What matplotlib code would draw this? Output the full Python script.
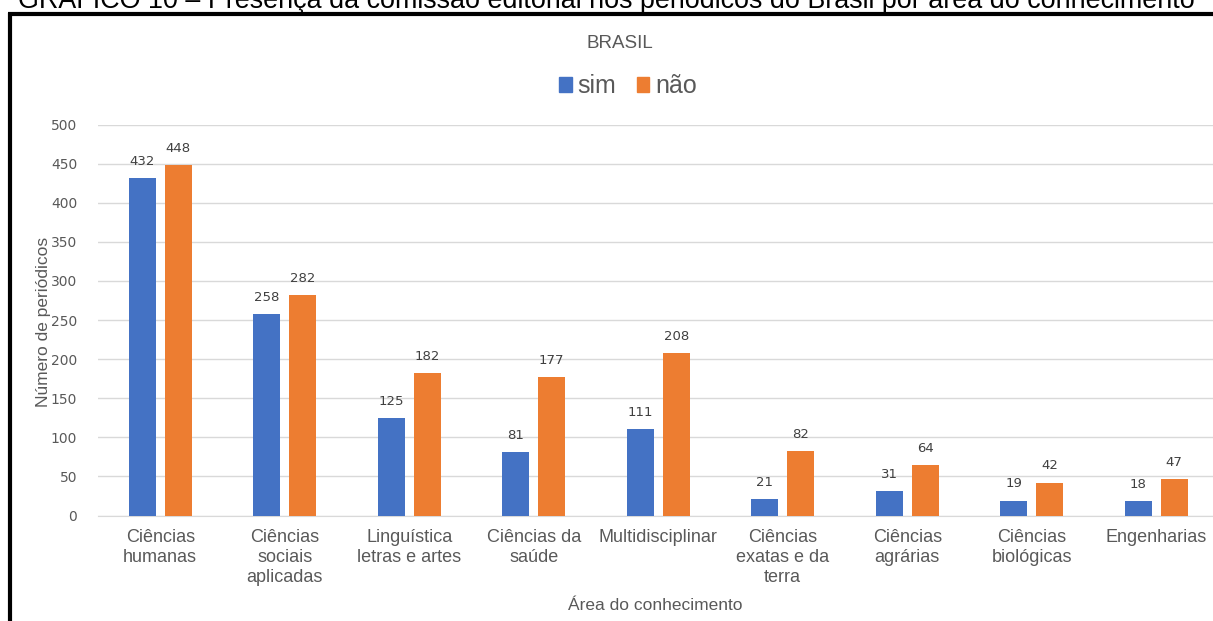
import matplotlib.pyplot as plt
from matplotlib.lines import Line2D
import numpy as np

# dados por área do conhecimento
areas = ['Ciências\nhumanas', 'Ciências\nsociais\naplicadas', 'Linguística\nletras e artes',
         'Ciências da\nsaúde', 'Multidisciplinar', 'Ciências\nexatas e da\nterra',
         'Ciências\nagrárias', 'Ciências\nbiológicas', 'Engenharias']
sim = [432, 258, 125, 81, 111, 21, 31, 19, 18]
nao = [448, 282, 182, 177, 208, 82, 64, 42, 47]
y_ticks = [0, 50, 100, 150, 200, 250, 300, 350, 400, 450, 500]

BLUE = '#4472C4'
ORANGE = '#ED7D31'
GRAY = '#595959'

plt.rcParams['font.family'] = ['Liberation Sans', 'DejaVu Sans']

W, H = 1213, 621
fig = plt.figure(figsize=(W / 100, H / 100), dpi=100)

# eixo em pixels -> coordenadas da figura
x0, x1 = 98, 1218.5
y0, y1 = 515.5, 124.5
ax = fig.add_axes([x0 / W, 1 - y0 / H, (x1 - x0) / W, (y0 - y1) / H])

x = np.arange(len(areas))
w = 0.22
off = 0.145
b1 = ax.bar(x - off, sim, w, color=BLUE, zorder=3)
b2 = ax.bar(x + off, nao, w, color=ORANGE, zorder=3)

for bars, vals in ((b1, sim), (b2, nao)):
    for r, v in zip(bars, vals):
        ax.text(r.get_x() + r.get_width() / 2, v + 13, str(v), ha='center', va='bottom',
                fontsize=9.5, color='#404040', family='DejaVu Sans')

ax.set_xlim(-0.5, len(areas) - 0.5)
ax.set_ylim(0, 500)
ax.set_yticks(y_ticks)
ax.set_yticklabels([str(t) for t in y_ticks], fontsize=10, color=GRAY, family='DejaVu Sans')
ax.set_xticks(x)
ax.set_xticklabels(areas, fontsize=13, color=GRAY, linespacing=1.22)
ax.tick_params(axis='x', length=0, pad=10)
ax.tick_params(axis='y', length=0, pad=15)
ax.grid(axis='y', color='#D9D9D9', linewidth=1, zorder=0)
for s in ax.spines.values():
    s.set_visible(False)
ax.spines['bottom'].set_visible(True)
ax.spines['bottom'].set_color('#D9D9D9')

fig.text(44 / W, 1 - 322 / H, 'Número de periódicos', rotation=90, ha='center', va='center',
         fontsize=12.5, color=GRAY)
fig.text(655 / W, 1 - 605 / H, 'Área do conhecimento', ha='center', va='center',
         fontsize=12.5, color=GRAY)
fig.text(620 / W, 1 - 43 / H, 'BRASIL', ha='center', va='center', fontsize=13.5, color=GRAY)

# legenda
handles = [plt.Rectangle((0, 0), 1, 1, color=BLUE), plt.Rectangle((0, 0), 1, 1, color=ORANGE)]
fig.legend(handles, ['sim', 'não'], loc='center', bbox_to_anchor=(628 / W, 1 - 86 / H),
           ncol=2, frameon=False, fontsize=18, labelcolor=GRAY, handlelength=0.5,
           handleheight=0.55, handletextpad=0.25, columnspacing=0.8)

# título cortado no topo
fig.text(18 / W, 1 - 8.5 / H,
         'GRÁFICO 10 – Presença da comissão editorial nos periódicos do Brasil por área do conhecimento',
         ha='left', va='baseline', fontsize=19.4, color='black')

# moldura
fig.add_artist(Line2D([9.5 / W, 9.5 / W], [0, 1 - 13 / H], transform=fig.transFigure,
                      color='black', linewidth=3, solid_capstyle='butt'))
fig.add_artist(Line2D([8 / W, 1], [1 - 13.5 / H, 1 - 13.5 / H], transform=fig.transFigure,
                      color='black', linewidth=3, solid_capstyle='butt'))

fig.savefig('out.png', dpi=100)
